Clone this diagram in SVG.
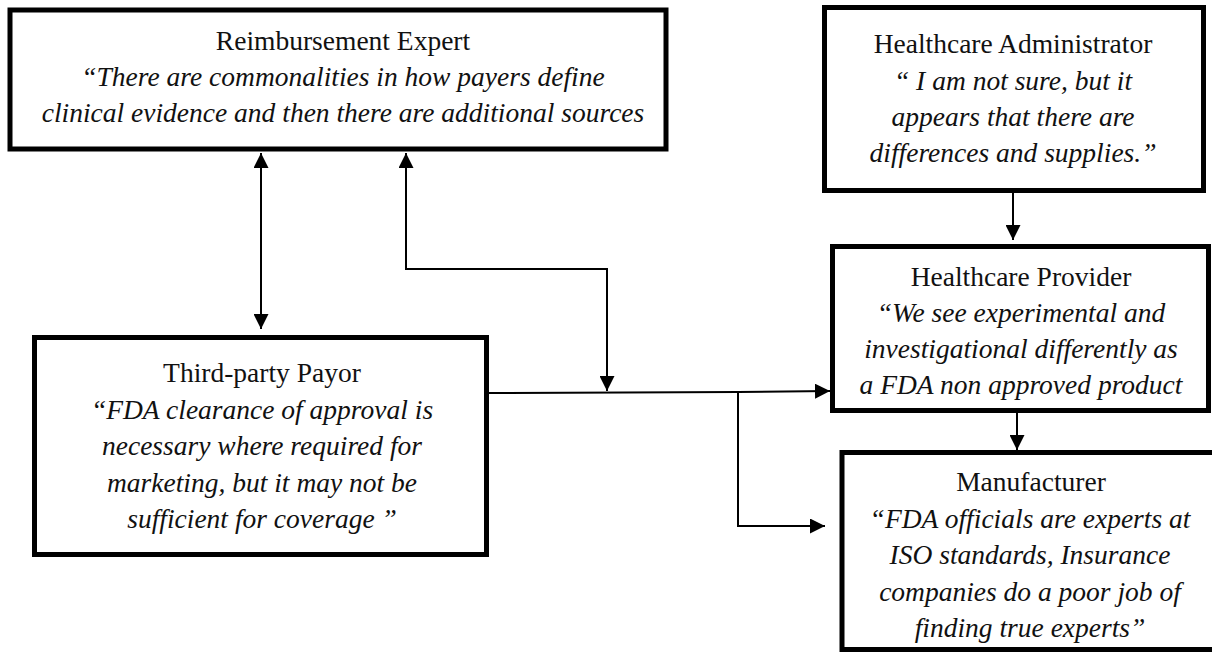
<svg xmlns="http://www.w3.org/2000/svg" width="1212" height="653" viewBox="0 0 1212 653">
  <style>
    .box { fill: #ffffff; stroke: #000000; stroke-width: 5; }
    .title { font-family: "Liberation Serif", "Times New Roman", serif; font-size: 27.5px; fill: #111111; text-anchor: middle; }
    .quote { font-family: "Liberation Serif", "Times New Roman", serif; font-size: 27.5px; font-style: italic; fill: #111111; text-anchor: middle; }
    .link { fill: none; stroke: #000000; stroke-width: 2; }
  </style>
  <defs>
    <marker id="arrow" viewBox="0 0 15 15" refX="15" refY="7.5" markerWidth="15" markerHeight="15" markerUnits="userSpaceOnUse" orient="auto-start-reverse">
      <path d="M0,0 L15,7.5 L0,15 Z" fill="#000000"/>
    </marker>
  </defs>
  <rect width="1212" height="653" fill="#ffffff"/>

  <!-- connectors -->
  <g id="connectors">
    <!-- expert <-> payor -->
    <line class="link" x1="261" y1="153" x2="261" y2="329" marker-start="url(#arrow)" marker-end="url(#arrow)"/>
    <!-- expert <-> main flow line -->
    <path class="link" d="M406,153 V269 H607 V391" marker-start="url(#arrow)" marker-end="url(#arrow)"/>
    <!-- payor -> provider -->
    <path class="link" d="M488,393 L738,392 L830,391" marker-end="url(#arrow)"/>
    <!-- branch -> manufacturer -->
    <path class="link" d="M738,392 V526 H825" marker-end="url(#arrow)"/>
    <!-- administrator -> provider -->
    <line class="link" x1="1013" y1="193" x2="1013" y2="240" marker-end="url(#arrow)"/>
    <!-- provider -> manufacturer -->
    <line class="link" x1="1017" y1="413" x2="1017" y2="450" marker-end="url(#arrow)"/>
  </g>

  <g id="reimbursement-expert">
    <rect class="box" x="10" y="10" width="656" height="139"/>
    <text class="title" x="343" y="50">Reimbursement Expert</text>
    <text class="quote" x="343" y="86">“There are commonalities in how payers define</text>
    <text class="quote" x="343" y="122">clinical evidence and then there are additional sources</text>
  </g>

  <g id="healthcare-administrator">
    <rect class="box" x="824.5" y="7.5" width="379" height="183"/>
    <text class="title" x="1013" y="53">Healthcare Administrator</text>
    <text class="quote" x="1013" y="90">“ I am not sure, but it</text>
    <text class="quote" x="1013" y="126">appears that there are</text>
    <text class="quote" x="1013" y="162">differences and supplies.”</text>
  </g>

  <g id="healthcare-provider">
    <rect class="box" x="832.5" y="246.5" width="376" height="164"/>
    <text class="title" x="1021" y="286">Healthcare Provider</text>
    <text class="quote" x="1021" y="322">“We see experimental and</text>
    <text class="quote" x="1021" y="358">investigational differently as</text>
    <text class="quote" x="1021" y="394">a FDA non approved product</text>
  </g>

  <g id="third-party-payor">
    <rect class="box" x="34.5" y="337.5" width="452" height="217"/>
    <text class="title" x="262" y="382">Third-party Payor</text>
    <text class="quote" x="262" y="419">“FDA clearance of approval is</text>
    <text class="quote" x="262" y="455">necessary where required for</text>
    <text class="quote" x="262" y="492">marketing, but it may not be</text>
    <text class="quote" x="262" y="528">sufficient for coverage ”</text>
  </g>

  <g id="manufacturer">
    <rect class="box" x="842" y="452.5" width="400" height="197"/>
    <text class="title" x="1031" y="491">Manufacturer</text>
    <text class="quote" x="1030" y="528">“FDA officials are experts at</text>
    <text class="quote" x="1030" y="564">ISO standards, Insurance</text>
    <text class="quote" x="1030" y="601">companies do a poor job of</text>
    <text class="quote" x="1030" y="637">finding true experts”</text>
  </g>
</svg>
